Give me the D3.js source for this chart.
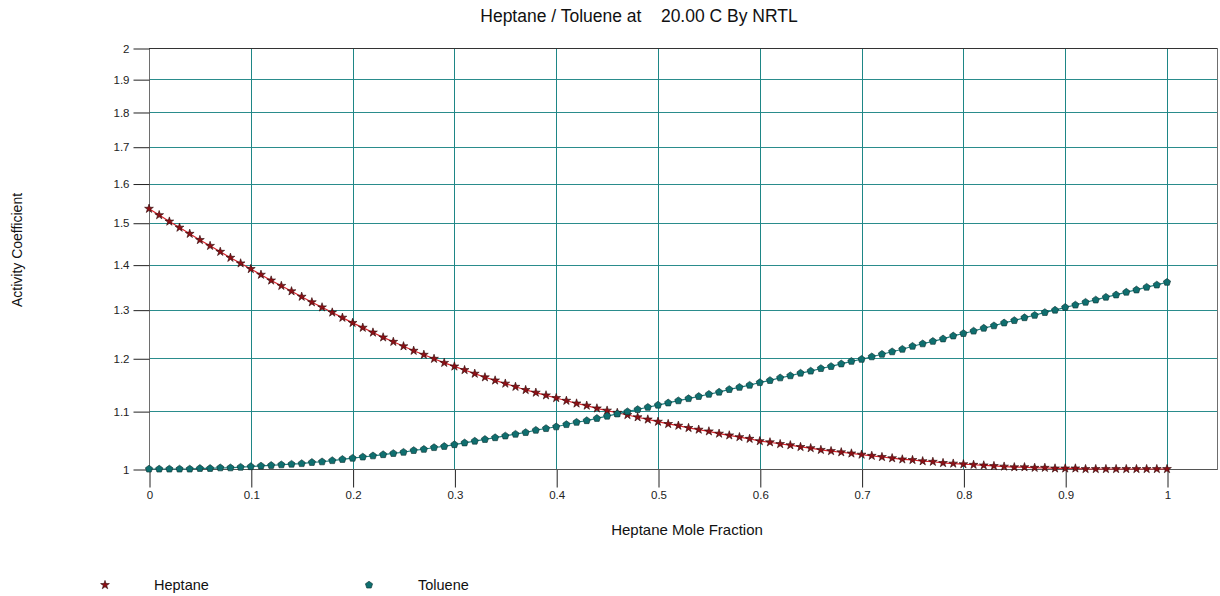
<!DOCTYPE html>
<html>
<head>
<meta charset="utf-8">
<script src="https://cdn.jsdelivr.net/npm/d3@7"></script>
<style>
  body { margin: 0; background: #fff; }
  svg { font-family: "Liberation Sans", Arial, sans-serif; }
</style>
</head>
<body>
<script>
const xs = d3.range(0, 101).map(i => i / 100)

// activity coefficient of heptane at x = 0, 0.01, ... 1
const heptane = [
	1.535, 1.519, 1.503, 1.488, 1.473, 1.458, 1.444, 1.430, 1.416, 1.403,
	1.390, 1.377, 1.364, 1.352, 1.340, 1.328, 1.316, 1.305, 1.294, 1.283,
	1.272, 1.262, 1.252, 1.242, 1.233, 1.224, 1.215, 1.207, 1.199, 1.191,
	1.184, 1.177, 1.170, 1.163, 1.157, 1.151, 1.145, 1.139, 1.134, 1.129,
	1.124, 1.119, 1.114, 1.110, 1.105, 1.101, 1.097, 1.093, 1.089, 1.085,
	1.081, 1.077, 1.074, 1.070, 1.067, 1.064, 1.060, 1.057, 1.054, 1.051,
	1.047, 1.045, 1.042, 1.040, 1.037, 1.035, 1.032, 1.030, 1.028, 1.026,
	1.024, 1.022, 1.020, 1.018, 1.016, 1.015, 1.013, 1.012, 1.010, 1.009,
	1.008, 1.007, 1.006, 1.005, 1.004, 1.003, 1.003, 1.002, 1.002, 1.001,
	1.001, 1.001, 1.000, 1.000, 1.000, 1.000, 1.000, 1.000, 1.000, 1.000,
	1.000
]

// activity coefficient of toluene
const toluene = [
	1.000, 1.000, 1.000, 1.000, 1.000, 1.001, 1.001, 1.002, 1.002, 1.003,
	1.004, 1.005, 1.006, 1.007, 1.008, 1.009, 1.011, 1.012, 1.014, 1.016,
	1.018, 1.020, 1.022, 1.024, 1.026, 1.028, 1.031, 1.033, 1.036, 1.038,
	1.041, 1.044, 1.047, 1.050, 1.053, 1.056, 1.059, 1.062, 1.066, 1.069,
	1.072, 1.076, 1.080, 1.083, 1.087, 1.091, 1.095, 1.099, 1.103, 1.107,
	1.111, 1.115, 1.119, 1.123, 1.127, 1.131, 1.135, 1.140, 1.144, 1.148,
	1.153, 1.157, 1.162, 1.166, 1.171, 1.175, 1.180, 1.184, 1.189, 1.194,
	1.198, 1.203, 1.208, 1.213, 1.218, 1.224, 1.229, 1.234, 1.239, 1.245,
	1.250, 1.255, 1.261, 1.266, 1.272, 1.277, 1.283, 1.288, 1.294, 1.299,
	1.305, 1.310, 1.316, 1.321, 1.327, 1.332, 1.338, 1.343, 1.349, 1.354,
	1.360
]

const xTicks = [0, 0.1, 0.2, 0.3, 0.4, 0.5, 0.6, 0.7, 0.8, 0.9, 1]
const yTicks = [1, 1.1, 1.2, 1.3, 1.4, 1.5, 1.6, 1.7, 1.8, 1.9, 2]
const seriesNames = ['Heptane', 'Toluene']

const width = 1220
const height = 596
const plotLeft = 149, plotTop = 48, plotBottom = 469, frameRight = 1217

const x = d3.scaleLinear().domain([0, 1]).range([plotLeft, 1167])
const y = d3.scaleLog().domain([1, 2]).range([plotBottom, plotTop])

const grid = '#2a8c8c'

const svg = d3.select('body')
	.append('svg')
	.attr('width', width)
	.attr('height', height)

// grid
svg.append('g')
	.selectAll('line')
	.data(yTicks.slice(1, -1))
	.enter()
	.append('line')
	.attr('x1', plotLeft).attr('x2', frameRight)
	.attr('y1', d => Math.round(y(d)) + 0.5).attr('y2', d => Math.round(y(d)) + 0.5)
	.attr('stroke', grid)

svg.append('g')
	.selectAll('line')
	.data(xTicks.slice(1))
	.enter()
	.append('line')
	.attr('x1', d => Math.round(x(d)) + 0.5).attr('x2', d => Math.round(x(d)) + 0.5)
	.attr('y1', plotTop).attr('y2', plotBottom)
	.attr('stroke', '#1e8686')

// frame
svg.append('rect')
	.attr('x', plotLeft + 0.5).attr('y', plotTop + 0.5)
	.attr('width', frameRight - plotLeft).attr('height', plotBottom - plotTop)
	.attr('fill', 'none')
	.attr('stroke', '#6e6e6e')

svg.append('line')
	.attr('x1', plotLeft).attr('x2', frameRight)
	.attr('y1', plotTop + 0.5).attr('y2', plotTop + 0.5)
	.attr('stroke', '#333')

// axes
const xAxis = d3.axisBottom(x)
	.tickValues(xTicks)
	.tickFormat(d3.format('~g'))
	.tickSize(18)
	.tickPadding(3)

const yAxis = d3.axisLeft(y)
	.tickValues(yTicks)
	.tickFormat(d3.format('~g'))
	.tickSize(16)
	.tickPadding(4)

const gx = svg.append('g')
	.attr('transform', `translate(0.5,${plotBottom + 0.5})`)
	.call(xAxis)
gx.select('.domain').remove()

const gy = svg.append('g')
	.attr('transform', `translate(${plotLeft + 0.5},0.5)`)
	.call(yAxis)
gy.select('.domain').remove()

svg.selectAll('.tick line').attr('stroke', '#222')
svg.selectAll('.tick text')
	.attr('fill', '#222')
	.style('font-size', '11.5px')
	.style('font-family', '"Liberation Sans", Arial, sans-serif')

svg.append('line')
	.attr('x1', plotLeft).attr('x2', frameRight)
	.attr('y1', plotBottom + 0.5).attr('y2', plotBottom + 0.5)
	.attr('stroke', '#555')

// series
const pentagon = {
	draw(ctx, size) {
		const r = Math.sqrt(size / 2.38)
		for (let i = 0; i < 5; i++) {
			const a = -Math.PI / 2 + i * 2 * Math.PI / 5
			if (i === 0) ctx.moveTo(r * Math.cos(a), r * Math.sin(a))
			else ctx.lineTo(r * Math.cos(a), r * Math.sin(a))
		}
		ctx.closePath()
	}
}

const series = [
	{ name: seriesNames[0], values: heptane, line: '#d8242c', fill: '#8e1016', stroke: '#2a0606', symbol: d3.symbolStar, size: 24 },
	{ name: seriesNames[1], values: toluene, line: '#1b7f7f', fill: '#0f6f6f', stroke: '#0a2e2e', symbol: pentagon, size: 34 }
]

const line = d3.line()
	.x((d, i) => x(xs[i]))
	.y(d => y(d))

series.forEach(s => {
	svg.append('path')
		.datum(s.values)
		.attr('d', line)
		.attr('fill', 'none')
		.attr('stroke', s.line)
		.attr('stroke-width', 1.2)

	svg.append('g')
		.selectAll('path')
		.data(s.values)
		.enter()
		.append('path')
		.attr('transform', (d, i) => `translate(${x(xs[i])},${y(d)})`)
		.attr('d', d3.symbol().type(s.symbol).size(s.size))
		.attr('fill', s.fill)
		.attr('stroke', s.stroke)
		.attr('stroke-width', 0.6)
})

// titles
svg.append('text')
	.attr('x', 639).attr('y', 22)
	.attr('text-anchor', 'middle')
	.attr('xml:space', 'preserve')
	.style('white-space', 'pre')
	.style('font-size', '17.5px')
	.attr('fill', '#111')
	.text('Heptane / Toluene at    20.00 C By NRTL')

svg.append('text')
	.attr('x', 687).attr('y', 535)
	.attr('text-anchor', 'middle')
	.style('font-size', '15px')
	.attr('fill', '#111')
	.text('Heptane Mole Fraction')

svg.append('text')
	.attr('transform', 'translate(22,250) rotate(-90)')
	.attr('text-anchor', 'middle')
	.style('font-size', '14px')
	.attr('fill', '#111')
	.text('Activity Coefficient')

// legend
const legend = svg.append('g')
	.selectAll('g')
	.data(series)
	.enter()
	.append('g')
	.attr('transform', (d, i) => `translate(${105 + i * 264},585)`)

legend.append('path')
	.attr('d', d => d3.symbol().type(d.symbol).size(d.size)())
	.attr('fill', d => d.fill)
	.attr('stroke', d => d.stroke)
	.attr('stroke-width', 0.6)

legend.append('text')
	.attr('x', 49).attr('y', 5)
	.style('font-size', '14.5px')
	.attr('fill', '#111')
	.text(d => d.name)
</script>
</body>
</html>
